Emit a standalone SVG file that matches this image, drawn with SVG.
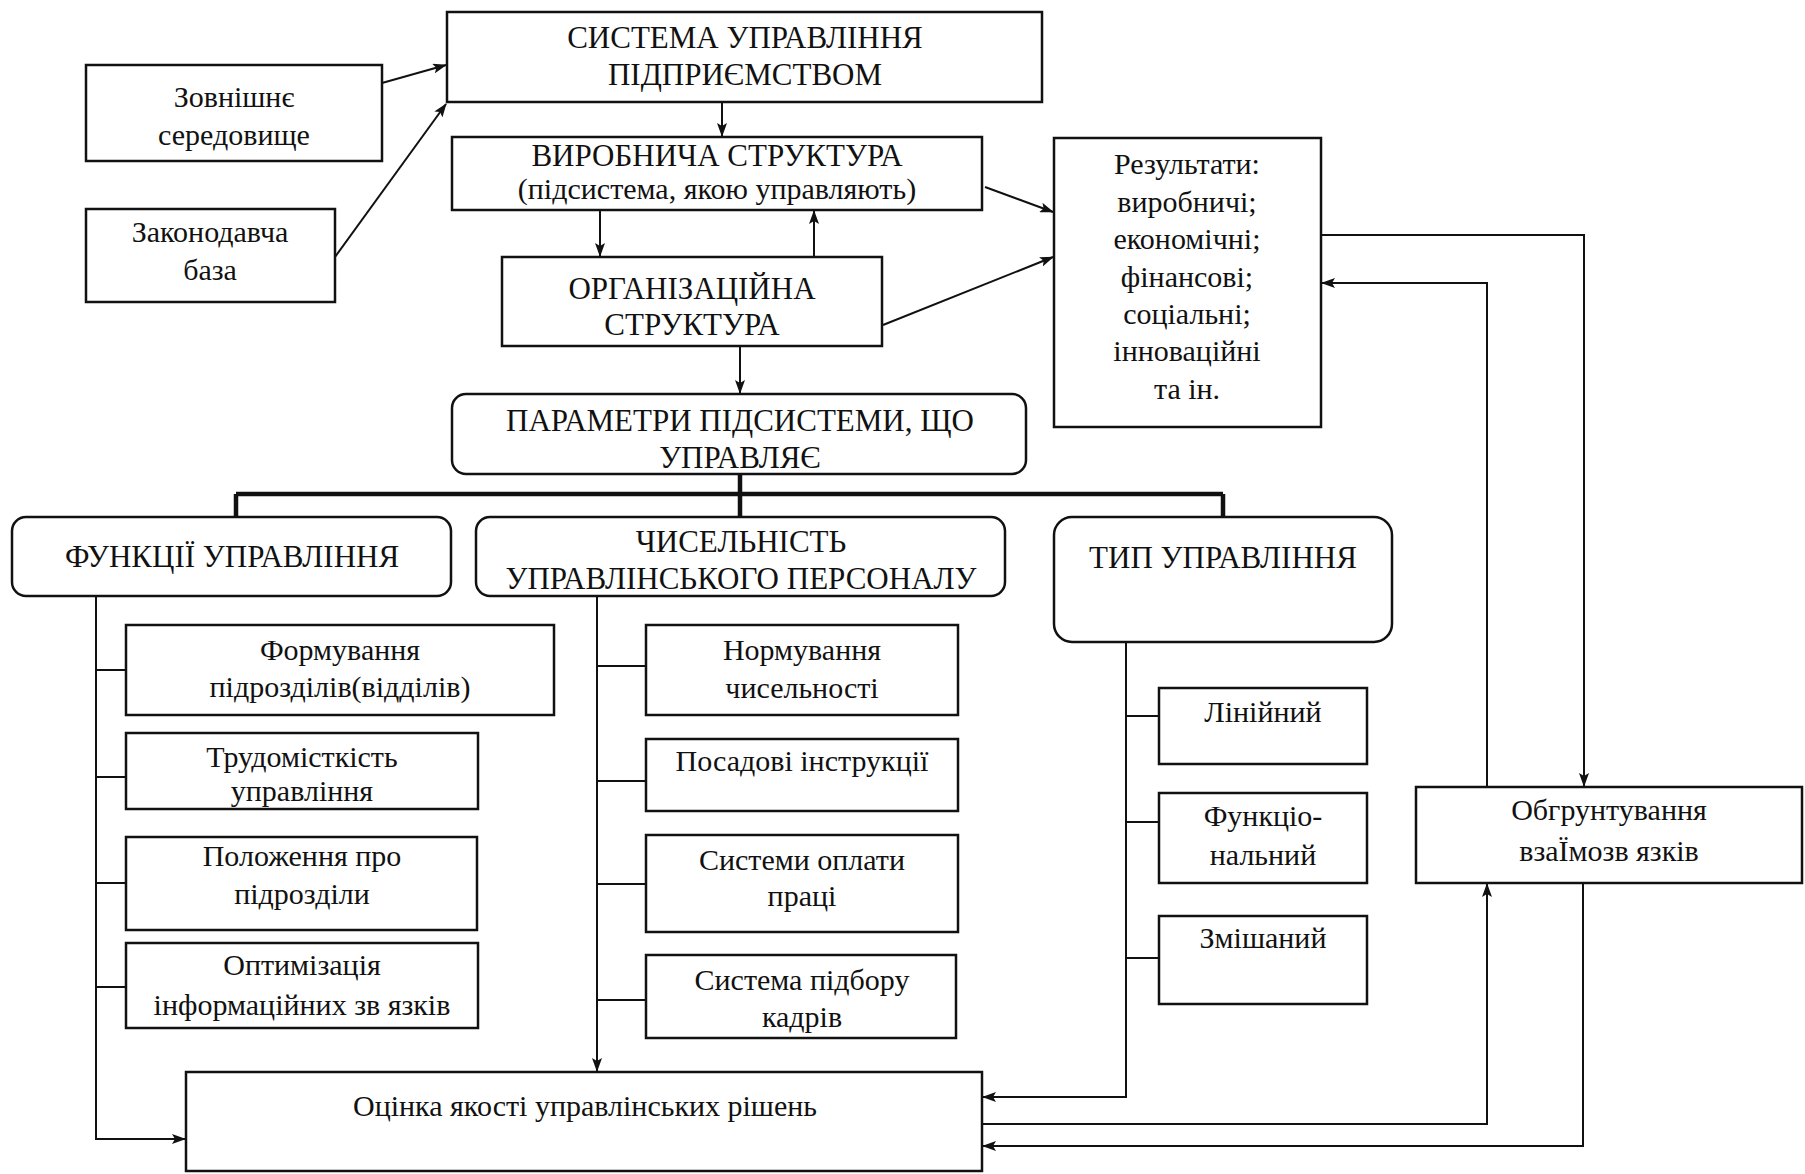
<svg xmlns="http://www.w3.org/2000/svg" width="1805" height="1174" viewBox="0 0 1805 1174">
<style>
.bx{fill:#fff;stroke:#111;stroke-width:2.5}
.t{font-family:"Liberation Serif","DejaVu Serif",serif;font-size:30px;fill:#111;text-anchor:middle}
.c{font-size:31px}
.ln{fill:none;stroke:#111;stroke-width:2}
.bus{fill:none;stroke:#111;stroke-width:4.5}
</style>
<defs>
<marker id="ah" markerUnits="userSpaceOnUse" markerWidth="14" markerHeight="10" refX="13" refY="5" orient="auto">
<path d="M0,0 L14,5 L0,10 L3,5 z" fill="#111"/>
</marker>
</defs>
<rect width="1805" height="1174" fill="#fff"/>
<g id="connectors">
<line class="ln" x1="382" y1="83" x2="446" y2="65" marker-end="url(#ah)"/>
<line class="ln" x1="335" y1="257" x2="446" y2="104" marker-end="url(#ah)"/>
<line class="ln" x1="722" y1="102" x2="722" y2="136" marker-end="url(#ah)"/>
<line class="ln" x1="600" y1="210" x2="600" y2="256" marker-end="url(#ah)"/>
<line class="ln" x1="814" y1="257" x2="814" y2="211" marker-end="url(#ah)"/>
<line class="ln" x1="985" y1="187" x2="1053" y2="212" marker-end="url(#ah)"/>
<line class="ln" x1="883" y1="325" x2="1053" y2="257" marker-end="url(#ah)"/>
<line class="ln" x1="740" y1="346" x2="740" y2="393" marker-end="url(#ah)"/>
<path class="bus" d="M740,474 V494 M236,494 H1223 M236,494 V517 M740,494 V517 M1223,494 V517"/>
<path class="ln" d="M96,596 V1139 H185" marker-end="url(#ah)"/>
<path class="ln" d="M96,670 H126 M96,777 H126 M96,883 H126 M96,987 H126"/>
<path class="ln" d="M597,596 V1071" marker-end="url(#ah)"/>
<path class="ln" d="M597,666 H646 M597,781 H646 M597,884 H646 M597,1000 H646"/>
<path class="ln" d="M1126,642 V1097 H983" marker-end="url(#ah)"/>
<path class="ln" d="M1126,716 H1159 M1126,822 H1159 M1126,958 H1159"/>
<path class="ln" d="M1321,235 H1584 V786" marker-end="url(#ah)"/>
<path class="ln" d="M1487,787 V283 H1322" marker-end="url(#ah)"/>
<path class="ln" d="M982,1124 H1487 V884" marker-end="url(#ah)"/>
<path class="ln" d="M1583,883 V1146 H983" marker-end="url(#ah)"/>
</g>
<g id="sys"><rect class="bx" x="447" y="12" width="595" height="90"/>
<text class="t c" x="745" y="48">СИСТЕМА УПРАВЛІННЯ</text><text class="t c" x="745" y="85">ПІДПРИЄМСТВОМ</text></g>
<g id="ext"><rect class="bx" x="86" y="65" width="296" height="96"/>
<text class="t" x="234" y="107">Зовнішнє</text><text class="t" x="234" y="145">середовище</text></g>
<g id="law"><rect class="bx" x="86" y="209" width="249" height="93"/>
<text class="t" x="210" y="242">Законодавча</text><text class="t" x="210" y="280">база</text></g>
<g id="prod"><rect class="bx" x="452" y="137" width="530" height="73"/>
<text class="t c" x="717" y="166">ВИРОБНИЧА СТРУКТУРА</text><text class="t" x="717" y="199">(підсистема, якою управляють)</text></g>
<g id="org"><rect class="bx" x="502" y="257" width="380" height="89"/>
<text class="t c" x="692" y="299">ОРГАНІЗАЦІЙНА</text><text class="t c" x="692" y="335">СТРУКТУРА</text></g>
<g id="res"><rect class="bx" x="1054" y="138" width="267" height="289"/>
<text class="t" x="1187" y="174">Результати:</text>
<text class="t" x="1187" y="212">виробничі;</text>
<text class="t" x="1187" y="249">економічні;</text>
<text class="t" x="1187" y="287">фінансові;</text>
<text class="t" x="1187" y="324">соціальні;</text>
<text class="t" x="1187" y="361">інноваційні</text>
<text class="t" x="1187" y="399">та ін.</text></g>
<g id="par"><rect class="bx" x="452" y="394" width="574" height="80" rx="14"/>
<text class="t c" x="740" y="431">ПАРАМЕТРИ ПІДСИСТЕМИ, ЩО</text><text class="t c" x="740" y="468">УПРАВЛЯЄ</text></g>
<g id="fun"><rect class="bx" x="12" y="517" width="439" height="79" rx="14"/>
<text class="t c" x="232" y="567">ФУНКЦІЇ УПРАВЛІННЯ</text></g>
<g id="num"><rect class="bx" x="476" y="517" width="529" height="79" rx="14"/>
<text class="t c" x="741" y="552">ЧИСЕЛЬНІСТЬ</text><text class="t c" x="741" y="589">УПРАВЛІНСЬКОГО ПЕРСОНАЛУ</text></g>
<g id="typ"><rect class="bx" x="1054" y="517" width="338" height="125" rx="18"/>
<text class="t c" x="1223" y="568">ТИП УПРАВЛІННЯ</text></g>
<g id="f1"><rect class="bx" x="126" y="625" width="428" height="90"/>
<text class="t" x="340" y="660">Формування</text><text class="t" x="340" y="697">підрозділів(відділів)</text></g>
<g id="f2"><rect class="bx" x="126" y="733" width="352" height="76"/>
<text class="t" x="302" y="767">Трудомісткість</text><text class="t" x="302" y="801">управління</text></g>
<g id="f3"><rect class="bx" x="126" y="837" width="351" height="93"/>
<text class="t" x="302" y="866">Положення про</text><text class="t" x="302" y="904">підрозділи</text></g>
<g id="f4"><rect class="bx" x="126" y="943" width="352" height="85"/>
<text class="t" x="302" y="975">Оптимізація</text><text class="t" x="302" y="1015">інформаційних зв язків</text></g>
<g id="n1"><rect class="bx" x="646" y="625" width="312" height="90"/>
<text class="t" x="802" y="660">Нормування</text><text class="t" x="802" y="698">чисельності</text></g>
<g id="n2"><rect class="bx" x="646" y="739" width="312" height="72"/>
<text class="t" x="802" y="771">Посадові інструкції</text></g>
<g id="n3"><rect class="bx" x="646" y="835" width="312" height="97"/>
<text class="t" x="802" y="870">Системи оплати</text><text class="t" x="802" y="906">праці</text></g>
<g id="n4"><rect class="bx" x="646" y="955" width="310" height="83"/>
<text class="t" x="802" y="990">Система підбору</text><text class="t" x="802" y="1027">кадрів</text></g>
<g id="t1"><rect class="bx" x="1159" y="688" width="208" height="76"/>
<text class="t" x="1263" y="722">Лінійний</text></g>
<g id="t2"><rect class="bx" x="1159" y="793" width="208" height="90"/>
<text class="t" x="1263" y="826">Функціо-</text><text class="t" x="1263" y="865">нальний</text></g>
<g id="t3"><rect class="bx" x="1159" y="916" width="208" height="88"/>
<text class="t" x="1263" y="948">Змішаний</text></g>
<g id="eval"><rect class="bx" x="186" y="1072" width="796" height="99"/>
<text class="t" x="585" y="1116">Оцінка якості управлінських рішень</text></g>
<g id="just"><rect class="bx" x="1416" y="787" width="386" height="96"/>
<text class="t" x="1609" y="820">Обгрунтування</text><text class="t" x="1609" y="861">взаЇмозв язків</text></g>
</svg>
